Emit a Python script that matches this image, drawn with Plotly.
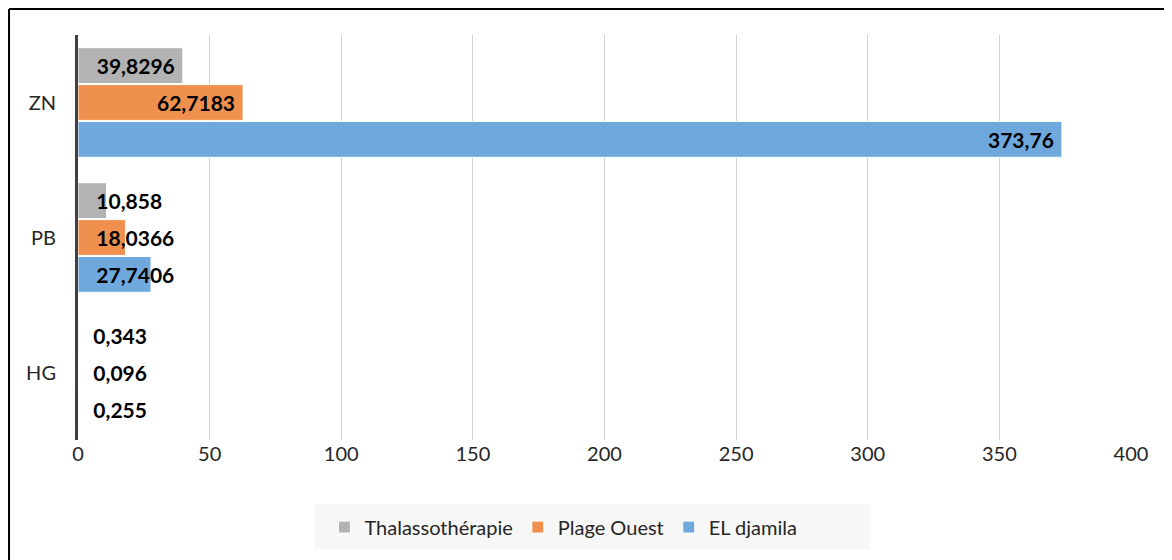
import plotly.graph_objects as go

categories = ["HG", "PB", "ZN"]
series_names = ["EL djamila", "Plage Ouest", "Thalassothérapie"]
el_djamila = [0.255, 27.7406, 373.76]
plage_ouest = [0.096, 18.0366, 62.7183]
thalasso = [0.343, 10.858, 39.8296]
x_ticks = [0, 50, 100, 150, 200, 250, 300, 350, 400]

colors = {"EL djamila": "#6FA8DC", "Plage Ouest": "#F0904F", "Thalassothérapie": "#B3B3B3"}
ranks = {"EL djamila": 3, "Plage Ouest": 2, "Thalassothérapie": 1}
values = {"EL djamila": el_djamila, "Plage Ouest": plage_ouest, "Thalassothérapie": thalasso}

FONT = "Lato"
LABEL_FONT = dict(family=FONT, size=21, color="black", weight="bold")

def fmt(v):
    return str(v).replace(".", ",")

fig = go.Figure()
for name in series_names:
    vals = values[name]
    # big category: label at inner end of bar
    fig.add_trace(go.Bar(
        name=name, orientation="h", y=categories[2:], x=vals[2:],
        offsetgroup=name, legendgroup=name, legendrank=ranks[name],
        marker=dict(color=colors[name], line=dict(color="white", width=1)),
        text=[fmt(v) + " " for v in vals[2:]], textposition="inside", insidetextanchor="end",
        constraintext="none", textangle=0, textfont=LABEL_FONT,
        showlegend=True, hoverinfo="x+y"))
    # small categories: label starting near the base
    fig.add_trace(go.Bar(
        name=name, orientation="h", y=categories[:2], x=vals[:2],
        offsetgroup=name, legendgroup=name,
        marker=dict(color=colors[name], line=dict(color="white", width=1)),
        text=["   " + fmt(v) for v in vals[:2]], textposition="inside", insidetextanchor="start",
        constraintext="none", textangle=0, textfont=LABEL_FONT,
        showlegend=False, hoverinfo="x+y"))

# page body has an 8px margin, so the figure is a bit smaller than the window
fig.update_layout(
    width=1164, height=552,
    margin=dict(l=70, r=41, t=27, b=120),
    paper_bgcolor="white", plot_bgcolor="white",
    font=dict(family=FONT, size=20, color="#262626"),
    barmode="group", bargap=0.18, bargroupgap=0.03,
    legend=dict(orientation="h", x=0.461, xanchor="center", y=-0.215, yanchor="middle",
                font=dict(family=FONT, size=20, color="#262626"),
                bgcolor="rgba(0,0,0,0)", itemwidth=30, traceorder="normal"),
    shapes=[
        dict(type="rect", xref="paper", yref="paper", x0=0.225, x1=0.752, y0=-0.269, y1=-0.158,
             fillcolor="#F7F7F7", line=dict(width=0), layer="below"),
        dict(type="line", xref="paper", yref="paper", x0=-0.0655, x1=-0.0655, y0=1.0642, y1=-0.5,
             line=dict(color="black", width=2)),
        dict(type="line", xref="paper", yref="paper", x0=-0.0655, x1=1.1, y0=1.0642, y1=1.0642,
             line=dict(color="black", width=2)),
    ],
)
fig.update_xaxes(range=[0, 400], tickvals=x_ticks, ticktext=[str(t) for t in x_ticks],
                 showgrid=True, gridcolor="#D0D0D0", gridwidth=1.3, zeroline=False,
                 showline=False, ticks="", tickfont=dict(family=FONT, size=20, color="#262626"))
fig.update_yaxes(categoryorder="array", categoryarray=categories,
                 showline=True, linecolor="#404040", linewidth=3, showgrid=False,
                 ticks="", ticklabelstandoff=15, tickfont=dict(family=FONT, size=20, color="#262626"))

fig.write_html("out.html")
